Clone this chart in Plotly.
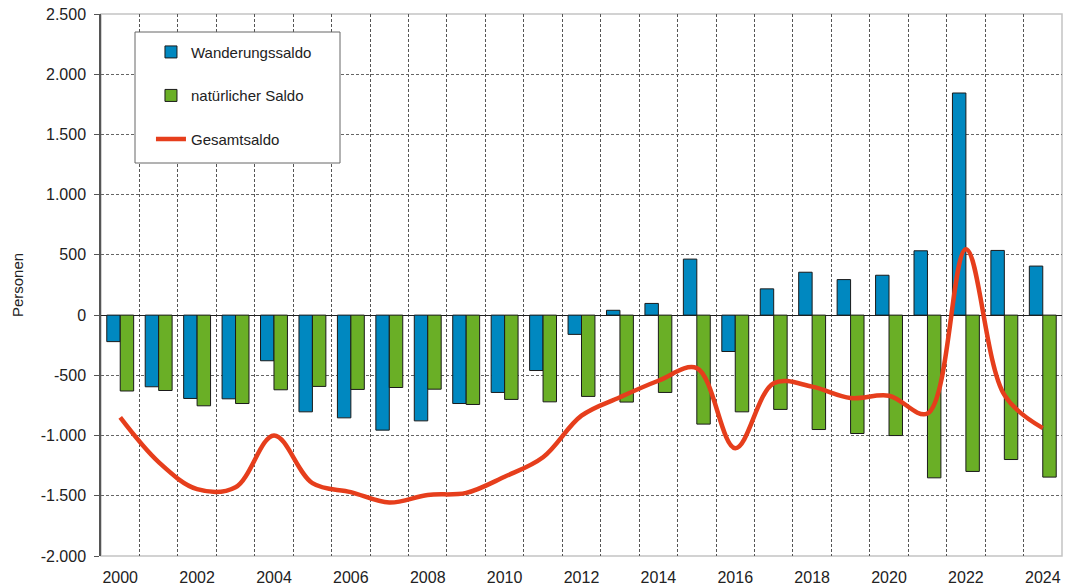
import plotly.graph_objects as go

years = list(range(2000, 2025))
wanderungssaldo = [-220, -595, -692, -695, -379, -803, -853, -955, -878, -734, -642, -460, -160,
                   40, 97, 465, -302, 218, 356, 295, 331, 534, 1844, 537, 407]
natuerlicher_saldo = [-630, -626, -753, -734, -620, -592, -617, -601, -615, -742, -700, -720, -675,
                      -722, -642, -905, -803, -783, -950, -983, -1000, -1351, -1298, -1199, -1345]
gesamtsaldo = [w + n for w, n in zip(wanderungssaldo, natuerlicher_saldo)]

y_tickvals = [-2000, -1500, -1000, -500, 0, 500, 1000, 1500, 2000, 2500]
y_ticktext = ["-2.000", "-1.500", "-1.000", "-500", "0", "500", "1.000", "1.500", "2.000", "2.500"]
x_tickvals = list(range(2000, 2025, 2))
x_ticktext = [str(v) for v in x_tickvals]

FONT = "Liberation Sans, Arial, sans-serif"
BLUE = "#0088C0"
GREEN = "#6AAF26"
RED = "#E63E1C"

fig = go.Figure()
fig.add_trace(go.Bar(x=years, y=wanderungssaldo, name="Wanderungssaldo",
                     marker=dict(color=BLUE, line=dict(color="#1a1a1a", width=1)),
                     legendgroup="a"))
fig.add_trace(go.Bar(x=years, y=natuerlicher_saldo, name="natürlicher Saldo",
                     marker=dict(color=GREEN, line=dict(color="#1a1a1a", width=1)),
                     legendgroup="b"))
fig.add_trace(go.Scatter(x=years, y=gesamtsaldo, name="Gesamtsaldo", mode="lines",
                         line=dict(color=RED, width=4.5, shape="spline", smoothing=1.0),
                         legendgroup="c"))

fig.update_layout(
    width=1069, height=588,
    margin=dict(l=101, r=7, t=14, b=32),
    paper_bgcolor="white", plot_bgcolor="white",
    font=dict(family=FONT, size=16, color="#222"),
    barmode="group", bargap=0.3, bargroupgap=0,
    showlegend=True,
    legend=dict(x=0.052, y=0.96, xanchor="left", yanchor="top",
                bgcolor="rgba(0,0,0,0)", borderwidth=0,
                traceorder="grouped", tracegroupgap=21,
                font=dict(family=FONT, size=15, color="#222")),
    xaxis=dict(range=[1999.5, 2024.5], tickmode="array", tickvals=x_tickvals, ticktext=x_ticktext,
               showgrid=False, zeroline=False, showline=False, ticks="",
               tickfont=dict(size=16), ticklabelstandoff=10, automargin=False,
               minor=dict(tickmode="linear", tick0=1999.5, dtick=1, showgrid=True,
                          gridcolor="#555", griddash="3px,2px", gridwidth=1, ticks="")),
    yaxis=dict(range=[-2000, 2500], tickmode="array", tickvals=y_tickvals, ticktext=y_ticktext,
               showgrid=True, gridcolor="#666", griddash="3px,2px", gridwidth=1,
               zeroline=True, zerolinecolor="#222", zerolinewidth=1.2,
               showline=True, linecolor="#555", linewidth=1.5,
               ticks="outside", ticklen=5, tickcolor="#555",
               tickfont=dict(size=16), ticklabelstandoff=5, automargin=False,
               title=dict(text="Personen", font=dict(size=15), standoff=13)),
    shapes=[
        dict(type="rect", xref="paper", yref="paper", x0=0, x1=1, y0=0, y1=1,
             line=dict(color="#c4c4c4", width=1.5), fillcolor="rgba(0,0,0,0)", layer="below"),
        dict(type="rect", xref="paper", yref="paper",
             x0=(135 - 101) / 961, x1=(340 - 101) / 961,
             y0=1 - (163 - 14) / 542, y1=1 - (32 - 14) / 542,
             line=dict(color="#666", width=1), fillcolor="white", layer="above"),
    ],
)

fig.write_html("out.html", config={"displayModeBar": False},
               post_script="document.body.style.margin='0';document.body.style.overflow='hidden';")
